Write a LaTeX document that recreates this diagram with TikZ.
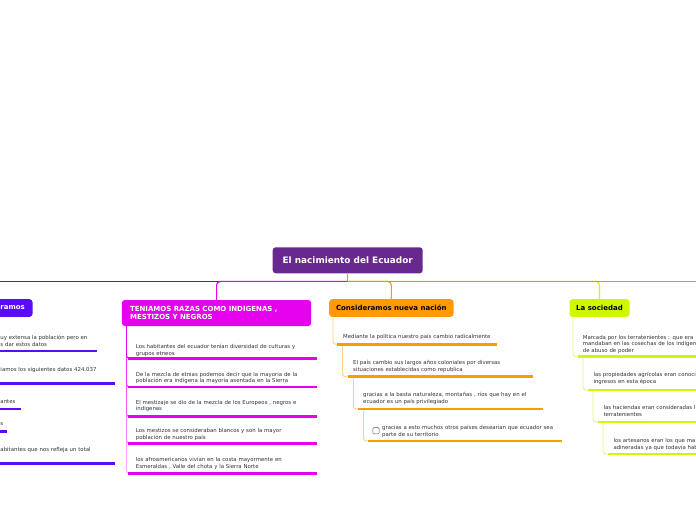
\documentclass[tikz,border=0pt]{standalone}
\usepackage{fontspec}
\setmainfont{DejaVu Sans}
\usetikzlibrary{calc}
\definecolor{rootc}{HTML}{68298F}
\definecolor{bluec}{HTML}{5A0BF7}
\definecolor{magc}{HTML}{E500EE}
\definecolor{orac}{HTML}{FF9A00}
\definecolor{orl}{HTML}{FFD08A}
\definecolor{limc}{HTML}{CFF700}
\definecolor{liml}{HTML}{E4F77E}
\definecolor{grnc}{HTML}{4CDD22}
\definecolor{txtc}{HTML}{333333}
\tikzset{
  box/.style={rounded corners=3pt, inner sep=0pt},
  ttl/.style={font=\bfseries\fontsize{7}{7.6}\selectfont},
  txt/.style={font=\fontsize{5.4}{6.7}\selectfont, text=txtc, inner sep=0pt,
    text width=240pt, align=left, anchor=base west},
  ul/.style={line width=2.8pt},
  conn/.style={line width=0.9pt, rounded corners=3pt},
  topconn/.style={line width=1.1pt, rounded corners=4pt},
}
\begin{document}
\begin{tikzpicture}[x=1pt,y=-1pt]
\path[use as bounding box, clip] (0,0) rectangle (696,520);
\fill[white] (0,0) rectangle (696,520);

% main nodes
\node[box, fill=rootc, text=white, font=\bfseries\fontsize{8.9}{10}\selectfont,
  minimum width=150pt, minimum height=26pt] (root) at (347.7,260.3) {El nacimiento del Ecuador};
\node[box, ttl, fill=bluec, text=white, minimum height=17.7pt, minimum width=80pt,
  text width=64.6pt, align=right, anchor=north east] (blue) at (32.7,299) {ramos};
\node[box, fill=magc, text=white, minimum width=189.3pt, minimum height=26pt,
  text width=173pt, align=left, anchor=north west, font=\bfseries\fontsize{7}{7.3}\selectfont] (mag) at (121.7,299.8)
  {TENIAMOS RAZAS COMO INDIGENAS ,\\MESTIZOS Y NEGROS};
\node[box, ttl, fill=orac, text=black, minimum width=124.3pt, minimum height=17.7pt,
  anchor=north west] (ora) at (329,299) {Consideramos nueva nación};
\node[box, ttl, fill=limc, text=black, minimum width=60pt, minimum height=17.7pt,
  anchor=north west] (lim) at (569.3,299) {La sociedad};

% top connectors
\coordinate (hub) at (347.7,281.3);
\coordinate (leftend) at (-20,281.3);
\coordinate (rightend) at (720,281.3);
\draw[topconn, bluec] (hub) -- (leftend);
\draw[topconn, magc] (hub) -| (mag.north);
\draw[topconn, orac] (hub) -| (ora.north);
\draw[topconn, limc] (hub) -| (lim.north);
\draw[topconn, grnc] (hub) -- (rightend);
\draw[topconn, grnc] (root.south) -- (hub);

% blue children (cut off at left)
\node[txt] (b1) at (0.3,339.5) {uy extensa la población pero en\\s dar estos datos};
\node[txt] (b2) at (0.3,371.8) {iamos los siguientes datos 424.037};
\node[txt] (b3) at (0.3,403.8) {antes};
\node[txt] (b4) at (0.3,425.8) {s};
\node[txt] (b5) at (0.3,451.8) {abitantes que nos refleja un total};
\coordinate (b1s) at (-10,351); \coordinate (b1e) at (96.7,351);
\coordinate (b2s) at (-10,383.3); \coordinate (b2e) at (115,383.3);
\coordinate (b3s) at (-10,409); \coordinate (b3e) at (21,409);
\coordinate (b4s) at (-10,431.7); \coordinate (b4e) at (7,431.7);
\coordinate (b5s) at (-10,463.3); \coordinate (b5e) at (115,463.3);
\foreach \i in {1,...,5} \draw[ul, bluec] (b\i s) -- (b\i e);

% magenta children
\node[txt] (m1) at (135.7,348.5) {Los habitantes del ecuador tenían diversidad de culturas y\\grupos etneos};
\node[txt] (m2) at (135.7,376.1) {De la mezcla de etnias podemos decir que la mayoria de la\\población era indigena la mayoria asentada en la Sierra};
\node[txt] (m3) at (135.7,404.1) {El mestizaje se dio de la mezcla de los Europeos , negros e\\indigenas};
\node[txt] (m4) at (135.7,432.8) {Los mestizos se consideraban blancos y son la mayor\\población de nuestro país};
\node[txt] (m5) at (135.7,461.8) {los afroamericanos vivían en la costa mayormente en\\Esmeraldas , Valle del chota y la Sierra Norte};
\coordinate (mtop) at ($(mag.south west)+(4.8,0)$);
\coordinate (m1s) at (128,358.3); \coordinate (m1e) at (316.7,358.3);
\coordinate (m2s) at (128,387); \coordinate (m2e) at (316.7,387);
\coordinate (m3s) at (128,416.7); \coordinate (m3e) at (316.7,416.7);
\coordinate (m4s) at (128,443.3); \coordinate (m4e) at (316.7,443.3);
\coordinate (m5s) at (128,473.3); \coordinate (m5e) at (316.7,473.3);
\draw[conn, magc!35] (mtop) |- (m5s);
\draw[conn, magc!50] (mtop) |- (m4s);
\draw[conn, magc!65] (mtop) |- (m3s);
\draw[conn, magc!80] (mtop) |- (m2s);
\draw[conn, magc] (mtop) |- (m1s);
\foreach \i in {1,...,5} \draw[ul, magc] (m\i s) -- (m\i e);

% orange children
\node[txt] (o1) at (343,338.5) {Mediante la política nuestro país cambio radicalmente};
\node[txt] (o2) at (353,364.5) {El país cambio sus largos años coloniales por diversas\\situaciones establecidas como republica};
\node[txt] (o3) at (363,396.8) {gracias a la basta naturaleza, montañas , ríos que hay en el\\ecuador es un país privilegiado};
\node[draw=txtc!80, line width=0.5pt, rounded corners=1pt, fill=white, minimum size=6.3pt, inner sep=0pt] (chk) at (376,430.8) {};
\node[txt] (o4) at (382,429.5) {gracias a esto muchos otros países desearian que ecuador sea\\parte de su territorio};
\coordinate (o1s) at (337,344.3); \coordinate (o1e) at (496.7,344.3);
\coordinate (o2s) at (348,376.7); \coordinate (o2e) at (533,376.7);
\coordinate (o3s) at (358,409); \coordinate (o3e) at (543,409);
\coordinate (o4s) at (368,441); \coordinate (o4e) at (562,441);
\draw[conn, orl] ($(ora.south west)+(4,0)$) |- (o1s);
\draw[conn, orl] ($(o1s)+(5.5,0)$) |- (o2s);
\draw[conn, orl] ($(o2s)+(5.5,0)$) |- (o3s);
\draw[conn, orl] ($(o3s)+(5.5,0)$) |- (o4s);
\foreach \i in {1,...,4} \draw[ul, orac] (o\i s) -- (o\i e);

% lime children
\node[txt] (l1) at (582.7,339) {Marcada por los terratenientes : que era\\mandaban en las cosechas de los indígen\\de abuso de poder};
\node[txt] (l2) at (593.3,376.8) {las propiedades agrícolas eran conoci\\ingresos en esta época};
\node[txt] (l3) at (603.3,409.8) {las haciendas eran consideradas l\\terratenientes};
\node[txt] (l4) at (613.3,442.8) {los artesanos eran los que ma\\adineradas ya que todavía hab};
\coordinate (l1s) at (577.5,356.7); \coordinate (l1e) at (720,356.7);
\coordinate (l2s) at (588,390); \coordinate (l2e) at (720,390);
\coordinate (l3s) at (598,422); \coordinate (l3e) at (720,422);
\coordinate (l4s) at (608,454); \coordinate (l4e) at (720,454);
\draw[conn, liml] ($(lim.south west)+(3.7,0)$) |- (l1s);
\draw[conn, liml] ($(l1s)+(5.5,0)$) |- (l2s);
\draw[conn, liml] ($(l2s)+(5,0)$) |- (l3s);
\draw[conn, liml] ($(l3s)+(5,0)$) |- (l4s);
\foreach \i in {1,...,4} \draw[ul, limc] (l\i s) -- (l\i e);
\end{tikzpicture}
\end{document}
